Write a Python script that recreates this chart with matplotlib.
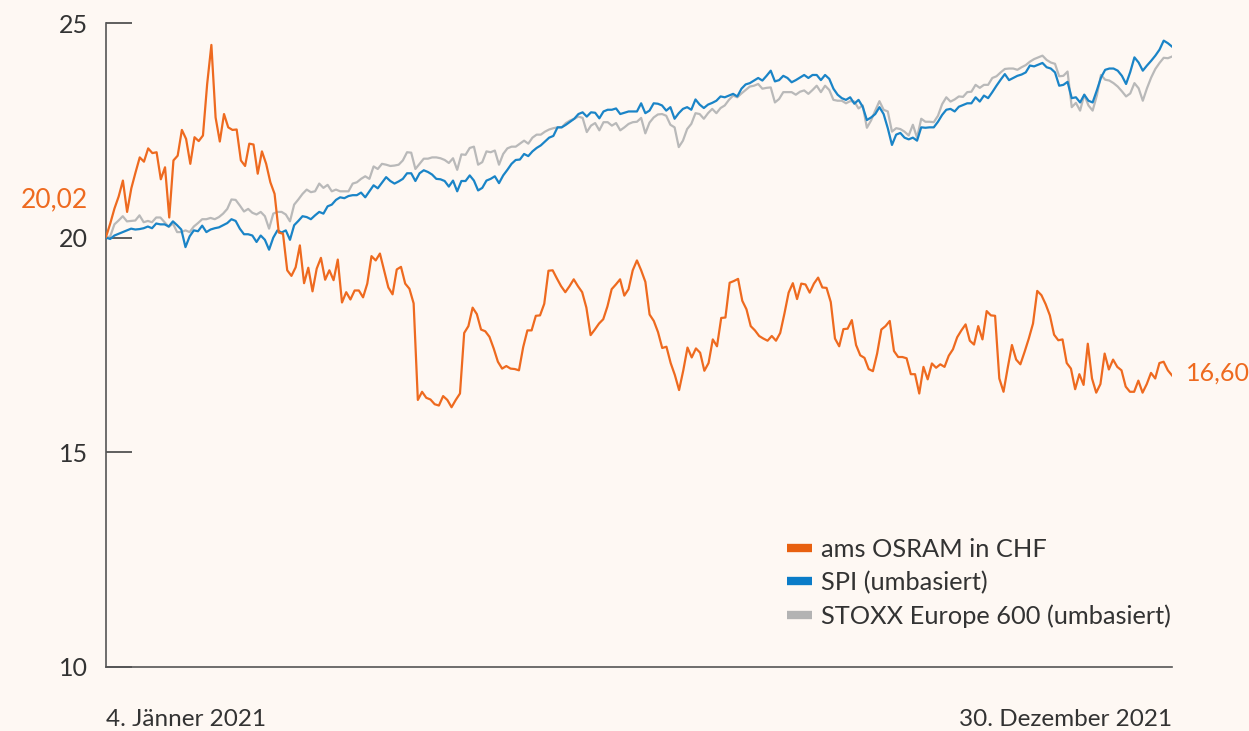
"""
ams OSRAM vs SPI vs STOXX Europe 600, 2021
"""
import matplotlib
matplotlib.use('Agg')
import matplotlib.pyplot as plt
from matplotlib.lines import Line2D
import numpy as np
import pandas as pd

plt.rcParams.update({
    'font.family': ['Lato', 'DejaVu Sans'],
    'font.size': 17,
})

BG = '#FEF8F3'
ORANGE = '#EE6A1F'
BLUE = '#1A84C7'
GREY = '#B9B9B9'
TEXT = '#333333'

start, end = pd.Timestamp('2021-01-04'), pd.Timestamp('2021-12-30')
date_labels = ['4. Jänner 2021', '30. Dezember 2021']
names = ['ams OSRAM in CHF', 'SPI (umbasiert)', 'STOXX Europe 600 (umbasiert)']
yticks = [10, 15, 20, 25]
first_label, last_label = '20,02', '16,60'

ams = [20.02, 20.33, 20.68, 20.96, 21.33, 20.60, 21.15, 21.52, 21.87, 21.77, 22.08, 21.97, 21.99, 21.36,
       21.64, 20.47, 21.80, 21.91, 22.51, 22.30, 21.72, 22.34, 22.25, 22.38, 23.58, 24.49, 22.80, 22.24,
       22.88, 22.57, 22.51, 22.52, 21.80, 21.67, 22.19, 22.17, 21.49, 22.01, 21.72, 21.29, 21.02, 20.12,
       20.09, 19.24, 19.11, 19.31, 19.82, 18.94, 19.30, 18.75, 19.28, 19.53, 19.02, 19.24, 19.01, 19.49,
       18.49, 18.73, 18.56, 18.77, 18.77, 18.61, 18.93, 19.57, 19.47, 19.63, 19.24, 18.84, 18.68, 19.26,
       19.32, 18.93, 18.81, 18.47, 16.22, 16.41, 16.27, 16.23, 16.12, 16.09, 16.31, 16.22, 16.05, 16.22,
       16.37, 17.78, 17.94, 18.37, 18.22, 17.86, 17.82, 17.69, 17.42, 17.11, 16.95, 17.01, 16.95, 16.94,
       16.91, 17.45, 17.84, 17.84, 18.18, 18.19, 18.46, 19.23, 19.24, 19.05, 18.87, 18.73, 18.87, 19.03,
       18.87, 18.73, 18.37, 17.73, 17.86, 18.00, 18.10, 18.40, 18.80, 18.91, 19.03, 18.65, 18.80, 19.24,
       19.47, 19.24, 18.97, 18.21, 18.06, 17.80, 17.43, 17.46, 17.08, 16.80, 16.45, 16.91, 17.44, 17.21,
       17.42, 17.32, 16.90, 17.08, 17.63, 17.47, 18.13, 18.14, 18.95, 18.99, 19.04, 18.53, 18.33, 17.94,
       17.84, 17.71, 17.65, 17.60, 17.71, 17.60, 17.78, 18.23, 18.72, 18.94, 18.57, 18.93, 18.91, 18.72,
       18.93, 19.07, 18.84, 18.83, 18.50, 17.65, 17.47, 17.87, 17.88, 18.08, 17.50, 17.26, 17.20, 16.94,
       16.89, 17.30, 17.86, 17.94, 18.06, 17.36, 17.22, 17.22, 17.19, 16.82, 16.82, 16.37, 16.99, 16.70,
       17.07, 16.97, 17.05, 16.99, 17.25, 17.40, 17.68, 17.84, 17.98, 17.60, 17.51, 17.94, 17.63, 18.29,
       18.19, 18.18, 16.72, 16.41, 16.97, 17.50, 17.16, 17.05, 17.34, 17.65, 18.00, 18.76, 18.66, 18.45,
       18.19, 17.74, 17.61, 17.63, 17.08, 16.95, 16.47, 16.82, 16.57, 17.53, 16.72, 16.39, 16.59, 17.30,
       16.93, 17.16, 16.99, 16.91, 16.53, 16.41, 16.41, 16.67, 16.39, 16.59, 16.85, 16.72, 17.08, 17.11,
       16.91, 16.79]

spi = [20.00, 19.97, 20.05, 20.09, 20.13, 20.17, 20.21, 20.19, 20.20, 20.22, 20.26, 20.22, 20.33, 20.31,
       20.31, 20.26, 20.38, 20.29, 20.19, 19.78, 20.03, 20.17, 20.15, 20.28, 20.13, 20.19, 20.22, 20.24,
       20.29, 20.34, 20.43, 20.39, 20.21, 20.08, 20.08, 20.05, 19.90, 20.05, 19.95, 19.72, 20.00, 20.17,
       20.12, 20.17, 19.95, 20.29, 20.39, 20.50, 20.48, 20.43, 20.52, 20.60, 20.56, 20.73, 20.77, 20.88,
       20.94, 20.92, 20.97, 20.99, 20.99, 21.05, 20.94, 21.08, 21.22, 21.15, 21.28, 21.41, 21.32, 21.26,
       21.31, 21.37, 21.50, 21.50, 21.32, 21.50, 21.57, 21.53, 21.47, 21.37, 21.36, 21.32, 21.19, 21.33,
       21.08, 21.32, 21.32, 21.45, 21.33, 21.10, 21.16, 21.33, 21.37, 21.43, 21.27, 21.45, 21.58, 21.72,
       21.81, 21.82, 21.95, 21.90, 22.01, 22.09, 22.15, 22.24, 22.33, 22.37, 22.57, 22.57, 22.63, 22.70,
       22.77, 22.88, 22.92, 22.82, 22.92, 22.91, 22.78, 22.94, 22.98, 22.98, 23.01, 22.88, 22.91, 22.94,
       22.94, 22.94, 23.13, 22.90, 22.96, 23.13, 23.12, 23.08, 22.96, 23.04, 22.77, 22.90, 23.00, 23.04,
       22.98, 23.22, 23.10, 23.02, 23.10, 23.14, 23.19, 23.29, 23.27, 23.31, 23.35, 23.29, 23.47, 23.57,
       23.60, 23.66, 23.72, 23.66, 23.77, 23.89, 23.64, 23.67, 23.77, 23.72, 23.62, 23.67, 23.73, 23.79,
       23.72, 23.79, 23.79, 23.67, 23.79, 23.70, 23.47, 23.33, 23.25, 23.21, 23.27, 23.12, 23.21, 23.05,
       22.74, 22.80, 22.88, 23.04, 22.88, 22.55, 22.16, 22.40, 22.44, 22.33, 22.29, 22.33, 22.26, 22.57,
       22.56, 22.57, 22.57, 22.70, 22.86, 22.98, 23.00, 22.94, 23.05, 23.09, 23.13, 23.13, 23.27, 23.17,
       23.31, 23.25, 23.39, 23.54, 23.68, 23.81, 23.67, 23.72, 23.77, 23.80, 23.85, 24.01, 23.99, 24.03,
       24.07, 23.97, 23.94, 23.85, 23.54, 23.56, 23.63, 23.25, 23.27, 23.15, 23.33, 23.19, 23.15, 23.43,
       23.73, 23.91, 23.94, 23.94, 23.89, 23.77, 23.58, 23.86, 24.20, 24.08, 23.89, 24.01, 24.12, 24.24,
       24.38, 24.59, 24.53, 24.45]

stoxx = [20.00, 20.03, 20.31, 20.40, 20.50, 20.38, 20.39, 20.40, 20.52, 20.36, 20.39, 20.36, 20.47, 20.47,
         20.36, 20.25, 20.33, 20.13, 20.13, 20.17, 20.13, 20.26, 20.34, 20.43, 20.43, 20.46, 20.43, 20.48,
         20.56, 20.67, 20.89, 20.88, 20.75, 20.61, 20.67, 20.58, 20.54, 20.60, 20.50, 20.21, 20.56, 20.60,
         20.60, 20.54, 20.38, 20.77, 20.89, 21.02, 21.12, 21.06, 21.08, 21.26, 21.16, 21.23, 21.08, 21.12,
         21.08, 21.08, 21.08, 21.26, 21.29, 21.37, 21.43, 21.37, 21.66, 21.60, 21.72, 21.70, 21.67, 21.68,
         21.70, 21.80, 21.99, 21.98, 21.60, 21.72, 21.84, 21.84, 21.87, 21.87, 21.85, 21.81, 21.74, 21.85,
         21.58, 21.94, 21.93, 22.09, 22.12, 21.70, 21.76, 22.01, 21.99, 22.03, 21.70, 21.95, 22.08, 22.12,
         22.12, 22.19, 22.26, 22.19, 22.33, 22.40, 22.40, 22.47, 22.52, 22.55, 22.57, 22.57, 22.67, 22.73,
         22.77, 22.82, 22.79, 22.46, 22.61, 22.67, 22.50, 22.69, 22.69, 22.61, 22.67, 22.50, 22.57, 22.65,
         22.69, 22.70, 22.79, 22.43, 22.68, 22.80, 22.87, 22.88, 22.84, 22.63, 22.57, 22.11, 22.26, 22.53,
         22.65, 22.90, 22.88, 22.77, 22.90, 23.00, 22.90, 23.02, 23.08, 23.21, 23.31, 23.27, 23.36, 23.44,
         23.52, 23.54, 23.58, 23.47, 23.49, 23.50, 23.15, 23.23, 23.39, 23.39, 23.39, 23.33, 23.40, 23.43,
         23.35, 23.44, 23.54, 23.39, 23.54, 23.44, 23.21, 23.19, 23.19, 23.13, 23.18, 23.17, 23.01, 23.08,
         22.56, 22.73, 22.96, 23.18, 22.98, 22.94, 22.47, 22.55, 22.53, 22.47, 22.38, 22.63, 22.33, 22.77,
         22.70, 22.70, 22.69, 22.84, 23.11, 23.27, 23.17, 23.22, 23.29, 23.28, 23.39, 23.40, 23.56, 23.49,
         23.56, 23.56, 23.72, 23.76, 23.85, 23.93, 23.94, 23.94, 23.91, 23.97, 24.02, 24.10, 24.16, 24.20,
         24.24, 24.14, 24.08, 24.05, 23.76, 23.77, 23.87, 23.04, 23.14, 22.96, 23.33, 23.08, 22.96, 23.31,
         23.79, 23.68, 23.66, 23.60, 23.52, 23.41, 23.29, 23.36, 23.60, 23.48, 23.19, 23.48, 23.73, 23.93,
         24.07, 24.19, 24.18, 24.22]


def dates_for(series):
    return pd.date_range(start, end, periods=len(series))


fig = plt.figure(figsize=(12.49, 7.31), dpi=100, facecolor=BG)
ax = fig.add_axes([0.0849, 0.0876, 0.8535, 0.8809])
ax.set_facecolor(BG)

ax.plot(dates_for(stoxx), stoxx, color=GREY, lw=1.6, zorder=2)
ax.plot(dates_for(spi), spi, color=BLUE, lw=1.6, zorder=3)
d_ams = dates_for(ams)
ax.plot(d_ams, ams, color=ORANGE, lw=1.6, zorder=4)

ax.annotate(first_label, xy=(d_ams[0], ams[0]), xytext=(-13, 27), textcoords='offset points',
            ha='right', va='center', color=ORANGE, fontsize=19)
ax.annotate(last_label, xy=(d_ams[-1], ams[-1]), xytext=(10, 1.5), textcoords='offset points',
            ha='left', va='center', color=ORANGE, fontsize=18)

ax.set_xlim(start, end)
ax.set_ylim(10, 25)
ax.set_yticks(yticks)
ax.set_yticklabels([str(t) for t in yticks])
ax.set_xticks([start, end])
ax.set_xticklabels(date_labels)
xl = ax.get_xticklabels()
xl[0].set_ha('left')
xl[1].set_ha('right')

for s in ['top', 'right']:
    ax.spines[s].set_visible(False)
for s in ['left', 'bottom']:
    ax.spines[s].set_color('#555555')
    ax.spines[s].set_linewidth(1.2)

ax.tick_params(axis='y', direction='in', length=19, width=1.2, color='#444444',
               pad=13, labelsize=18, labelcolor=TEXT)
ax.tick_params(axis='x', length=0, pad=30, labelsize=17.5, labelcolor=TEXT)

handles = [Line2D([], [], color=c, lw=6, solid_capstyle='butt')
           for c in ['#E8600F', '#0A7CC8', '#B3B3B3']]
ax.legend(handles, names, loc='upper left', bbox_to_anchor=(0.617, 0.236), frameon=False,
          fontsize=18.3, handlelength=1.0, handletextpad=0.35, labelspacing=0.4,
          labelcolor=TEXT)

fig.savefig('out.png', dpi=100, facecolor=BG)
plt.close()
